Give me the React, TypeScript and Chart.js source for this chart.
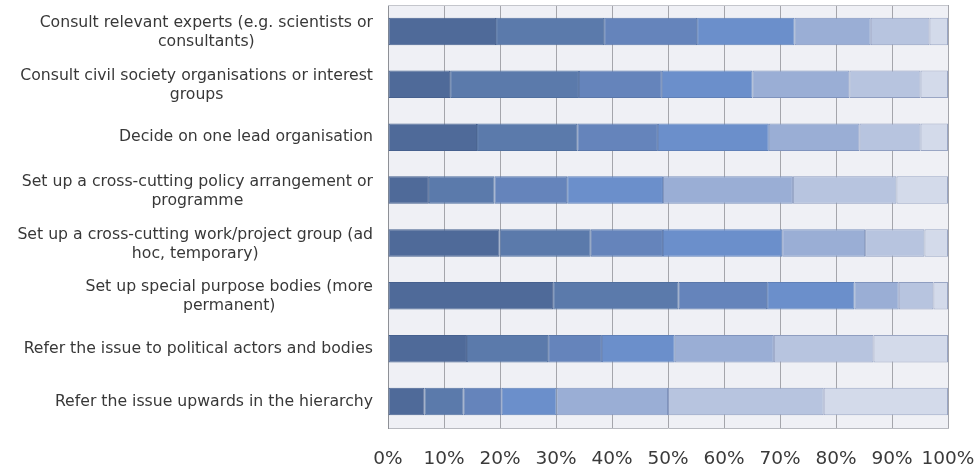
import React, { useEffect, useRef } from "react";
import { Chart, registerables } from "chart.js";

Chart.register(...registerables);

// Category labels, split into display lines
const categories: string[][] = [
  ["Consult relevant experts (e.g. scientists or", "consultants)"],
  ["Consult civil society organisations or interest", "groups"],
  ["Decide on one lead organisation"],
  ["Set up a cross-cutting policy arrangement or", "programme"],
  ["Set up a cross-cutting work/project group (ad", "hoc, temporary)"],
  ["Set up special purpose bodies (more", "permanent)"],
  ["Refer the issue to political actors and bodies"],
  ["Refer the issue upwards in the hierarchy"],
];

// Share of responses (%) per answer level, one array per level, in category order
const level1 = [19.3, 11.1, 15.9, 7.3, 19.9, 29.5, 14.1, 6.5];
const level2 = [19.3, 23.0, 17.9, 11.7, 16.3, 22.4, 14.5, 7.0];
const level3 = [16.6, 14.8, 14.4, 13.0, 12.9, 15.8, 9.6, 6.8];
const level4 = [17.4, 16.2, 19.8, 17.1, 21.3, 15.6, 13.0, 9.8];
const level5 = [13.6, 17.3, 16.2, 23.2, 14.8, 7.9, 17.7, 19.9];
const level6 = [10.5, 12.7, 10.9, 18.5, 10.6, 6.2, 17.8, 27.8];
const level7 = [3.3, 4.9, 4.9, 9.2, 4.2, 2.6, 13.3, 22.2];

const seriesNames = ["1", "2", "3", "4", "5", "6", "7"];
const seriesValues = [level1, level2, level3, level4, level5, level6, level7];
const seriesColors = ["#4f6a99", "#5b7aab", "#6584bb", "#6b8fcb", "#9aaed5", "#b7c4df", "#d3daea"];
const seriesBorders = ["#46608e", "#51709f", "#5a77aa", "#5f80b8", "#7f93bd", "#8e9dc0", "#9aa6c4"];

const tickValues = [0, 10, 20, 30, 40, 50, 60, 70, 80, 90, 100];

const LABEL_FONT = "15.7px 'DejaVu Sans', sans-serif";
const LABEL_RIGHT = 373;
const LINE_HEIGHT = 19;

// Fills the plot area and draws the wrapped, block-centred category labels
const panelPlugin = {
  id: "panel",
  beforeDraw(chart: any) {
    const { ctx, chartArea } = chart;
    ctx.save();
    ctx.fillStyle = "#eff0f5";
    ctx.fillRect(chartArea.left, chartArea.top, chartArea.right - chartArea.left, chartArea.bottom - chartArea.top);
    ctx.restore();
  },
  afterDraw(chart: any) {
    const { ctx, chartArea } = chart;
    const yScale = chart.scales.y;
    ctx.save();
    ctx.strokeStyle = "#c4c6cc";
    ctx.lineWidth = 1;
    ctx.beginPath();
    ctx.moveTo(chartArea.left, chartArea.top + 0.5);
    ctx.lineTo(chartArea.right, chartArea.top + 0.5);
    ctx.stroke();
    ctx.font = LABEL_FONT;
    ctx.fillStyle = "#383838";
    ctx.textAlign = "center";
    ctx.textBaseline = "middle";
    categories.forEach((lines, i) => {
      const cy = yScale.getPixelForValue(i);
      const widest = Math.max(...lines.map((l) => ctx.measureText(l).width));
      const cx = LABEL_RIGHT - widest / 2;
      const startY = cy - ((lines.length - 1) * LINE_HEIGHT) / 2 + (lines.length > 1 ? 1 : 0);
      lines.forEach((line, j) => {
        ctx.fillText(line, cx, startY + j * LINE_HEIGHT);
      });
    });
    ctx.restore();
  },
};

export default function App() {
  const canvasRef = useRef<HTMLCanvasElement | null>(null);

  useEffect(() => {
    if (!canvasRef.current) return;
    const chart = new Chart(canvasRef.current, {
      type: "bar",
      data: {
        labels: categories.map((l) => l.join(" ")),
        datasets: seriesValues.map((values, k) => ({
          label: seriesNames[k],
          data: values,
          backgroundColor: seriesColors[k],
          borderColor: seriesBorders[k],
          borderWidth: 1,
          borderSkipped: false,
          categoryPercentage: 1,
          barPercentage: 0.52,
        })),
      },
      options: {
        indexAxis: "y",
        animation: false,
        responsive: false,
        layout: { padding: { left: 0, right: 31, top: 5, bottom: 0 } },
        plugins: {
          legend: { display: false },
          tooltip: { enabled: false },
        },
        scales: {
          x: {
            stacked: true,
            min: 0,
            max: 100,
            afterBuildTicks: (scale: any) => {
              scale.ticks = tickValues.map((v) => ({ value: v }));
            },
            afterFit: (scale: any) => {
              scale.height = 38;
              scale.paddingLeft = 0;
              scale.paddingRight = 0;
            },
            grid: {
              color: "#a4a5ab",
              lineWidth: 1,
              drawTicks: false,
            },
            border: { display: true, color: "#b8bac0" },
            ticks: {
              padding: 20,
              color: "#3a3a3a",
              font: { family: "'DejaVu Sans', sans-serif", size: 18.5 },
              callback: (v: any) => `${v}%`,
              maxRotation: 0,
              autoSkip: false,
            },
          },
          y: {
            stacked: true,
            afterFit: (scale: any) => {
              scale.width = 388;
            },
            grid: { display: false },
            border: { display: true, color: "#8e9096" },
            ticks: { display: false },
          },
        },
      },
      plugins: [panelPlugin],
    });
    return () => chart.destroy();
  }, []);

  return (
    <div style={{ position: "fixed", left: 0, top: 0, width: 979, height: 466, background: "#ffffff" }}>
      <canvas ref={canvasRef} width={979} height={466} />
    </div>
  );
}
